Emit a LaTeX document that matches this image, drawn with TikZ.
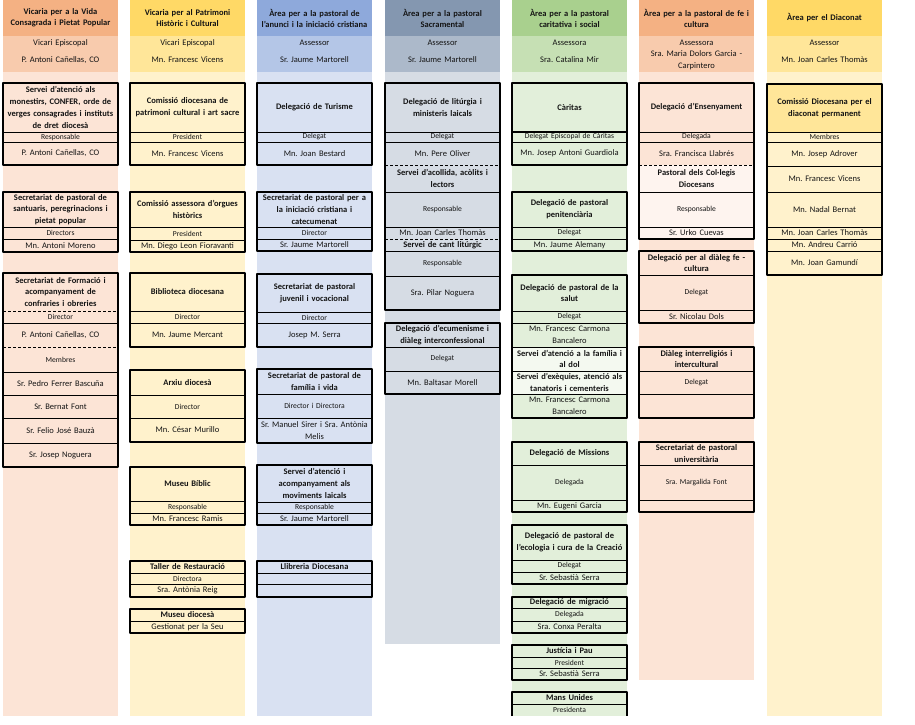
\documentclass[tikz,border=0pt]{standalone}
\usepackage{fontspec}
\setmainfont{Carlito}
\usepackage{tikz}
\definecolor{hdA}{HTML}{F4B183}
\definecolor{sbA}{HTML}{F8CBAD}
\definecolor{bgA}{HTML}{FCE4D6}
\definecolor{ltA}{HTML}{FEF4EF}
\definecolor{hdB}{HTML}{FFD966}
\definecolor{sbB}{HTML}{FFE699}
\definecolor{bgB}{HTML}{FFF2CC}
\definecolor{hdC}{HTML}{8EA9DB}
\definecolor{sbC}{HTML}{B4C6E7}
\definecolor{bgC}{HTML}{D9E1F2}
\definecolor{hdD}{HTML}{8497B0}
\definecolor{sbD}{HTML}{ACB9CA}
\definecolor{bgD}{HTML}{D6DCE4}
\definecolor{hdE}{HTML}{A9D08E}
\definecolor{sbE}{HTML}{C6E0B4}
\definecolor{bgE}{HTML}{E2EFDA}
\definecolor{ltE}{HTML}{F4F9F0}
\newcommand{\cell}[6]{\node[#5] (#1) at ({#2+57.5},{(#3+#4)/2}) {#6};}
\newcommand{\orgbox}[4]{%
  \foreach \yy in {#4} \draw[rowline] (#1,\yy) -- ({#1+115},\yy);
  \draw[boxline] (#1,#2) rectangle ({#1+115},#3);}

\begin{document}
\frenchspacing
\begin{tikzpicture}[x=1pt,y=-1pt,line join=round,
  cellbase/.style={text width=115pt,align=center,inner sep=0pt,text=black!92},
  colhead/.style={cellbase,font=\bfseries\fontsize{8.5}{11}\selectfont},
  subtxt/.style={cellbase,font=\fontsize{8.5}{12}\selectfont},
  boxtitle/.style={cellbase,font=\bfseries\fontsize{8.5}{11.8}\selectfont},
  roletxt/.style={cellbase,font=\fontsize{7.6}{9}\selectfont},
  nametxt/.style={cellbase,font=\fontsize{8.5}{12}\selectfont},
  boxline/.style={line width=1.6pt},
  rowline/.style={line width=0.8pt},
  dashrow/.style={line width=0.8pt,dash pattern=on 3pt off 2pt}]
  \useasboundingbox (0,0) rectangle (915,724);
  \foreach \L/\hc/\sc/\bc/\bot in {3/hdA/sbA/bgA/716,130/hdB/sbB/bgB/716,257/hdC/sbC/bgC/716,
    385/hdD/sbD/bgD/644,512/hdE/sbE/bgE/716,639/hdA/sbA/bgA/680,767/hdB/sbB/bgB/716}{
    \fill[fill=\bc] (\L,72) rectangle ({\L+115},\bot);
    \fill[fill=\sc] (\L,36) rectangle ({\L+115},72);
    \fill[fill=\hc] (\L,0) rectangle ({\L+115},36);
  }
  \fill[ltE] (512,347) rectangle (627,394);
  \fill[ltA] (639,165) rectangle (754,239);
  \fill[sbB] (767,84) rectangle (882,132);

  \cell{a-head}{3}{0}{36}{colhead}{Vicaria per a la Vida\\Consagrada i Pietat Popular}
  \cell{a-role}{3}{36}{50}{subtxt}{Vicari Episcopal}
  \cell{a-name}{3}{50}{70}{subtxt}{P. Antoni Cañellas, CO}
  \orgbox{3}{83}{165}{132,142}
  \cell{a1-t}{3}{83}{132}{boxtitle}{Servei d'atenció als\\monestirs, CONFER, orde de\\verges consagrades i instituts\\de dret diocesà}
  \cell{a1-r}{3}{132}{142}{roletxt}{Responsable}
  \cell{a1-n}{3}{142}{165}{nametxt}{P. Antoni Cañellas, CO}
  \orgbox{3}{192}{252}{227,239}
  \cell{a2-t}{3}{192}{227}{boxtitle}{Secretariat de pastoral de\\santuaris, peregrinacions i\\pietat popular}
  \cell{a2-r}{3}{227}{239}{roletxt}{Directors}
  \cell{a2-n}{3}{239}{252}{nametxt}{Mn. Antoni Moreno}
  \orgbox{3}{273}{467}{323,372,395,418,443}
  \foreach \yy in {311,347} \draw[dashrow] (3,\yy) -- (118,\yy);
  \cell{a3-t}{3}{273}{311}{boxtitle}{Secretariat de Formació i\\acompanyament de\\confraries i obreries}
  \cell{a3-r}{3}{311}{323}{roletxt}{Director}
  \cell{a3-n}{3}{323}{347}{nametxt}{P. Antoni Cañellas, CO}
  \cell{a3-m}{3}{347}{372}{roletxt}{Membres}
  \cell{a3-m1}{3}{372}{395}{nametxt}{Sr. Pedro Ferrer Bascuña}
  \cell{a3-m2}{3}{395}{418}{nametxt}{Sr. Bernat Font}
  \cell{a3-m3}{3}{418}{443}{nametxt}{Sr. Felio José Bauzà}
  \cell{a3-m4}{3}{443}{467}{nametxt}{Sr. Josep Noguera}

  \cell{b-head}{130}{0}{36}{colhead}{Vicaria per al Patrimoni\\Històric i Cultural}
  \cell{b-role}{130}{36}{50}{subtxt}{Vicari Episcopal}
  \cell{b-name}{130}{50}{70}{subtxt}{Mn. Francesc Vicens}
  \orgbox{130}{83}{165}{132,142}
  \cell{b1-t}{130}{83}{132}{boxtitle}{Comissió diocesana de\\patrimoni cultural i art sacre}
  \cell{b1-r}{130}{132}{142}{roletxt}{President}
  \cell{b1-n}{130}{142}{165}{nametxt}{Mn. Francesc Vicens}
  \orgbox{130}{192}{252}{227,240}
  \cell{b2-t}{130}{192}{227}{boxtitle}{Comissió assessora d'orgues\\històrics}
  \cell{b2-r}{130}{227}{240}{roletxt}{President}
  \cell{b2-n}{130}{240}{252}{nametxt}{Mn. Diego Leon Fioravanti}
  \orgbox{130}{273}{347}{311,323}
  \cell{b3-t}{130}{273}{311}{boxtitle}{Biblioteca diocesana}
  \cell{b3-r}{130}{311}{323}{roletxt}{Director}
  \cell{b3-n}{130}{323}{347}{nametxt}{Mn. Jaume Mercant}
  \orgbox{130}{370}{442}{395,418}
  \cell{b4-t}{130}{370}{395}{boxtitle}{Arxiu diocesà}
  \cell{b4-r}{130}{395}{418}{roletxt}{Director}
  \cell{b4-n}{130}{418}{442}{nametxt}{Mn. César Murillo}
  \orgbox{130}{467}{525}{501,513}
  \cell{b5-t}{130}{467}{501}{boxtitle}{Museu Bíblic}
  \cell{b5-r}{130}{501}{513}{roletxt}{Responsable}
  \cell{b5-n}{130}{513}{525}{nametxt}{Mn. Francesc Ramis}
  \orgbox{130}{561}{597}{573,584}
  \cell{b6-t}{130}{561}{573}{boxtitle}{Taller de Restauració}
  \cell{b6-r}{130}{573}{584}{roletxt}{Directora}
  \cell{b6-n}{130}{584}{597}{nametxt}{Sra. Antònia Reig}
  \orgbox{130}{609}{633}{621}
  \cell{b7-t}{130}{609}{621}{boxtitle}{Museu diocesà}
  \cell{b7-n}{130}{621}{633}{nametxt}{Gestionat per la Seu}

  \cell{c-head}{257}{0}{36}{colhead}{Àrea per a la pastoral de\\l'anunci i la iniciació cristiana}
  \cell{c-role}{257}{36}{50}{subtxt}{Assessor}
  \cell{c-name}{257}{50}{70}{subtxt}{Sr. Jaume Martorell}
  \orgbox{257}{83}{165}{132,142}
  \cell{c1-t}{257}{83}{132}{boxtitle}{Delegació de Turisme}
  \cell{c1-r}{257}{132}{142}{roletxt}{Delegat}
  \cell{c1-n}{257}{142}{165}{nametxt}{Mn. Joan Bestard}
  \orgbox{257}{192}{251}{227,239}
  \cell{c2-t}{257}{192}{227}{boxtitle}{Secretariat de pastoral per a\\la iniciació cristiana i\\catecumenat}
  \cell{c2-r}{257}{227}{239}{roletxt}{Director}
  \cell{c2-n}{257}{239}{251}{nametxt}{Sr. Jaume Martorell}
  \orgbox{257}{274}{347}{312,323}
  \cell{c3-t}{257}{274}{312}{boxtitle}{Secretariat de pastoral\\juvenil i vocacional}
  \cell{c3-r}{257}{312}{323}{roletxt}{Director}
  \cell{c3-n}{257}{323}{347}{nametxt}{Josep M. Serra}
  \orgbox{257}{369}{443}{394,418}
  \cell{c4-t}{257}{369}{394}{boxtitle}{Secretariat de pastoral de\\família i vida}
  \cell{c4-r}{257}{394}{418}{roletxt}{Director i Directora}
  \cell{c4-n}{257}{418}{443}{nametxt}{Sr. Manuel Sirer i Sra. Antònia\\Melis}
  \orgbox{257}{465}{525}{502,513}
  \cell{c5-t}{257}{465}{502}{boxtitle}{Servei d'atenció i\\acompanyament als\\moviments laicals}
  \cell{c5-r}{257}{502}{513}{roletxt}{Responsable}
  \cell{c5-n}{257}{513}{525}{nametxt}{Sr. Jaume Martorell}
  \orgbox{257}{561}{597}{573,584}
  \cell{c6-t}{257}{561}{573}{boxtitle}{Llibreria Diocesana}

  \cell{d-head}{385}{0}{36}{colhead}{Àrea per a la pastoral\\Sacramental}
  \cell{d-role}{385}{36}{50}{subtxt}{Assessor}
  \cell{d-name}{385}{50}{70}{subtxt}{Sr. Jaume Martorell}
  \orgbox{385}{83}{310}{132,142,192,227,251,276}
  \foreach \yy in {165,239} \draw[dashrow] (385,\yy) -- (500,\yy);
  \cell{d1-t}{385}{83}{132}{boxtitle}{Delegació de litúrgia i\\ministeris laicals}
  \cell{d1-r}{385}{132}{142}{roletxt}{Delegat}
  \cell{d1-n}{385}{142}{165}{nametxt}{Mn. Pere Oliver}
  \cell{d1-s1}{385}{165}{192}{boxtitle}{Servei d'acollida, acòlits i\\lectors}
  \cell{d1-s1r}{385}{192}{227}{roletxt}{Responsable}
  \cell{d1-s1n}{385}{227}{239}{nametxt}{Mn. Joan Carles Thomàs}
  \cell{d1-s2}{385}{239}{251}{boxtitle}{Servei de cant litúrgic}
  \cell{d1-s2r}{385}{251}{276}{roletxt}{Responsable}
  \cell{d1-s2n}{385}{276}{310}{nametxt}{Sra. Pilar Noguera}
  \orgbox{385}{323}{394}{347,371}
  \cell{d2-t}{385}{323}{347}{boxtitle}{Delegació d'ecumenisme i\\diàleg interconfessional}
  \cell{d2-r}{385}{347}{371}{roletxt}{Delegat}
  \cell{d2-n}{385}{371}{394}{nametxt}{Mn. Baltasar Morell}

  \cell{e-head}{512}{0}{36}{colhead}{Àrea per a la pastoral\\caritativa i social}
  \cell{e-role}{512}{36}{50}{subtxt}{Assessora}
  \cell{e-name}{512}{50}{70}{subtxt}{Sra. Catalina Mir}
  \orgbox{512}{83}{165}{142}
  \draw[boxline] (512,132) -- (627,132);
  \cell{e1-t}{512}{83}{132}{boxtitle}{Càritas}
  \cell{e1-r}{512}{132}{142}{roletxt}{Delegat Episcopal de Càritas}
  \cell{e1-n}{512}{142}{165}{nametxt}{Mn. Josep Antoni Guardiola}
  \orgbox{512}{192}{251}{227,239}
  \cell{e2-t}{512}{192}{227}{boxtitle}{Delegació de pastoral\\penitenciària}
  \cell{e2-r}{512}{227}{239}{roletxt}{Delegat}
  \cell{e2-n}{512}{239}{251}{nametxt}{Mn. Jaume Alemany}
  \orgbox{512}{275}{418}{311,323,347,371,394}
  \cell{e3-t}{512}{275}{311}{boxtitle}{Delegació de pastoral de la\\salut}
  \cell{e3-r}{512}{311}{323}{roletxt}{Delegat}
  \cell{e3-n}{512}{323}{347}{nametxt}{Mn. Francesc Carmona\\Bancalero}
  \cell{e3-s1}{512}{347}{371}{boxtitle}{Servei d'atenció a la família i\\al dol}
  \cell{e3-s2}{512}{371}{394}{boxtitle}{Servei d'exèquies, atenció als\\tanatoris i cementeris}
  \cell{e3-s2n}{512}{394}{418}{nametxt}{Mn. Francesc Carmona\\Bancalero}
  \orgbox{512}{442}{512}{465,500}
  \cell{e4-t}{512}{442}{465}{boxtitle}{Delegació de Missions}
  \cell{e4-r}{512}{465}{500}{roletxt}{Delegada}
  \cell{e4-n}{512}{500}{512}{nametxt}{Mn. Eugeni Garcia}
  \orgbox{512}{525}{584}{560,572}
  \cell{e5-t}{512}{525}{560}{boxtitle}{Delegació de pastoral de\\l'ecologia i cura de la Creació}
  \cell{e5-r}{512}{560}{572}{roletxt}{Delegat}
  \cell{e5-n}{512}{572}{584}{nametxt}{Sr. Sebastià Serra}
  \orgbox{512}{597}{633}{608,621}
  \cell{e6-t}{512}{597}{608}{boxtitle}{Delegació de migració}
  \cell{e6-r}{512}{608}{621}{roletxt}{Delegada}
  \cell{e6-n}{512}{621}{633}{nametxt}{Sra. Conxa Peralta}
  \orgbox{512}{645}{680}{657,668}
  \cell{e7-t}{512}{645}{657}{boxtitle}{Justícia i Pau}
  \cell{e7-r}{512}{657}{668}{roletxt}{President}
  \cell{e7-n}{512}{668}{680}{nametxt}{Sr. Sebastià Serra}
  \draw[rowline] (512,704) -- (627,704);
  \draw[boxline] (512,716) -- (512,692) -- (627,692) -- (627,716);
  \cell{e8-t}{512}{692}{704}{boxtitle}{Mans Unides}
  \cell{e8-r}{512}{704}{716}{roletxt}{Presidenta}

  \cell{f-head}{639}{0}{36}{colhead}{Àrea per a la pastoral de fe i\\cultura}
  \cell{f-role}{639}{36}{50}{subtxt}{Assessora}
  \cell{f-name}{639}{48}{72}{subtxt}{Sra. Maria Dolors Garcia -\\Carpintero}
  \orgbox{639}{83}{239}{132,142,192,227}
  \draw[dashrow] (639,165) -- (754,165);
  \cell{f1-t}{639}{83}{132}{boxtitle}{Delegació d'Ensenyament}
  \cell{f1-r}{639}{132}{142}{roletxt}{Delegada}
  \cell{f1-n}{639}{142}{165}{nametxt}{Sra. Francisca Llabrés}
  \cell{f1-s}{639}{165}{192}{boxtitle}{Pastoral dels Col·legis\\Diocesans}
  \cell{f1-sr}{639}{192}{227}{roletxt}{Responsable}
  \cell{f1-sn}{639}{227}{239}{nametxt}{Sr. Urko Cuevas}
  \orgbox{639}{251}{323}{275,310}
  \cell{f2-t}{639}{251}{275}{boxtitle}{Delegació per al diàleg fe -\\cultura}
  \cell{f2-r}{639}{275}{310}{roletxt}{Delegat}
  \cell{f2-n}{639}{310}{323}{nametxt}{Sr. Nicolau Dols}
  \orgbox{639}{347}{418}{371,394}
  \cell{f3-t}{639}{347}{371}{boxtitle}{Diàleg interreligiós i\\intercultural}
  \cell{f3-r}{639}{371}{394}{roletxt}{Delegat}
  \orgbox{639}{442}{512}{465,500}
  \cell{f4-t}{639}{442}{465}{boxtitle}{Secretariat de pastoral\\universitària}
  \cell{f4-n}{639}{465}{500}{roletxt}{Sra. Margalida Font}

  \cell{g-head}{767}{0}{36}{colhead}{Àrea per el Diaconat}
  \cell{g-role}{767}{36}{50}{subtxt}{Assessor}
  \cell{g-name}{767}{50}{70}{subtxt}{Mn. Joan Carles Thomàs}
  \orgbox{767}{84}{275}{132,142,166,192,227,239,251}
  \cell{g1-t}{767}{84}{132}{boxtitle}{Comissió Diocesana per el\\diaconat permanent}
  \cell{g1-r}{767}{132}{142}{roletxt}{Membres}
  \cell{g1-m1}{767}{142}{166}{nametxt}{Mn. Josep Adrover}
  \cell{g1-m2}{767}{166}{192}{nametxt}{Mn. Francesc Vicens}
  \cell{g1-m3}{767}{192}{227}{nametxt}{Mn. Nadal Bernat}
  \cell{g1-m4}{767}{227}{239}{nametxt}{Mn. Joan Carles Thomàs}
  \cell{g1-m5}{767}{239}{251}{nametxt}{Mn. Andreu Carrió}
  \cell{g1-m6}{767}{251}{275}{nametxt}{Mn. Joan Gamundí}
\end{tikzpicture}
\end{document}
